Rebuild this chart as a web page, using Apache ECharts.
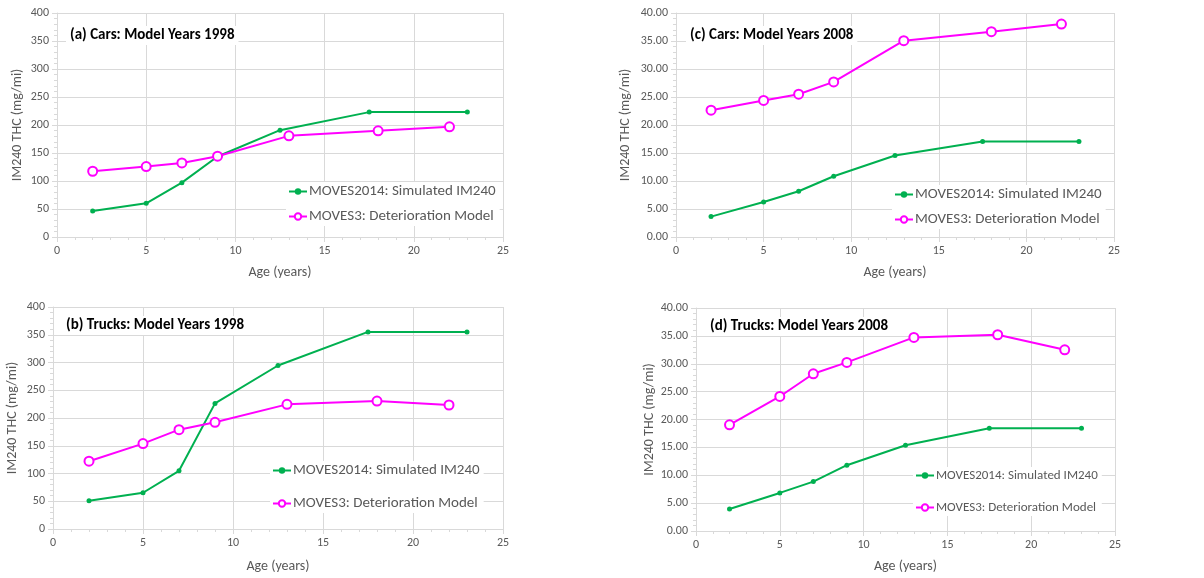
<!DOCTYPE html>
<html lang="en">
<head>
    <meta charset="UTF-8">
    <title>IM240 THC by age</title>
    <script src="https://cdn.jsdelivr.net/npm/echarts@6/dist/echarts.min.js"></script>
    <style>
        *{margin:0;padding:0;}
        html,body{width:100%;height:100%;background:#fff;}
        #main{width:1204px;height:578px;}
    </style>
</head>
<body>
    <div id="main"></div>
    <script>
        // ages of each series
        var agesMoves2014=[2,5,7,9,12.5,17.5,23];
        var agesMoves3=[2,5,7,9,13,18,22];

        // (a) cars 1998
        var carsMY1998_2014=[46.5,60.2,97,143.7,190.8,223,223];
        var carsMY1998_3=[117.4,125.8,132.3,144.3,180.6,189.6,196.7];
        // (b) trucks 1998
        var trucksMY1998_2014=[50.9,65.3,104.8,226.3,294.6,355.1,355.1];
        var trucksMY1998_3=[122.2,153.9,179,192.2,224.6,230.5,223.4];
        // (c) cars 2008
        var carsMY2008_2014=[3.64,6.26,8.17,10.85,14.55,17.05,17.05];
        var carsMY2008_3=[22.65,24.38,25.5,27.7,35.05,36.66,38.03];
        // (d) trucks 2008
        var trucksMY2008_2014=[3.95,6.83,8.86,11.8,15.39,18.44,18.44];
        var trucksMY2008_3=[19.04,24.13,28.2,30.24,34.73,35.2,32.5];

        var panelTitles=["(a) Cars: Model Years 1998","(b) Trucks: Model Years 1998","(c) Cars: Model Years 2008","(d) Trucks: Model Years 2008"];
        var name2014="MOVES2014: Simulated IM240";
        var name3="MOVES3: Deterioration Model";

        function pairs(xs,ys){
            var out=[];
            for(var i=0;i<xs.length;i++){out.push([xs[i],ys[i]]);}
            return out;
        }

        var font="Carlito, Lato, 'Liberation Sans', sans-serif";
        var gray="#595959";
        var lineGray="#d9d9d9";

        var grids=[
            {left:57,top:13,width:446,height:224},
            {left:53,top:307,width:450,height:222},
            {left:676,top:13,width:438,height:224},
            {left:696,top:308,width:419,height:223}
        ];
        var yMax=[400,400,40,40];
        var yInt=[50,50,5,5];
        var yNameGap=[33,34,44,39];
        var xNameGap=[28,30,28,28];

        var xAxes=[],yAxes=[];
        for(var i=0;i<4;i++){
            xAxes.push({
                type:"value",gridIndex:i,min:0,max:25,interval:5,
                name:"Age (years)",nameLocation:"middle",nameGap:xNameGap[i],
                nameTextStyle:{color:gray,fontSize:14,fontFamily:font},
                axisLine:{show:true,lineStyle:{color:lineGray}},
                axisTick:{show:true,length:5,lineStyle:{color:lineGray}},
                minorTick:{show:true,splitNumber:5,length:3,lineStyle:{color:lineGray}},
                axisLabel:{color:gray,fontSize:12,fontFamily:font,margin:8},
                splitLine:{show:true,lineStyle:{color:lineGray}}
            });
            yAxes.push({
                type:"value",gridIndex:i,min:0,max:yMax[i],interval:yInt[i],
                name:"IM240 THC (mg/mi)",nameLocation:"middle",nameGap:yNameGap[i],
                nameTextStyle:{color:gray,fontSize:14,fontFamily:font},
                axisLine:{show:true,lineStyle:{color:lineGray}},
                axisTick:{show:true,length:5,lineStyle:{color:lineGray}},
                minorTick:{show:true,splitNumber:5,length:3,lineStyle:{color:lineGray}},
                axisLabel:{color:gray,fontSize:12,fontFamily:font,margin:8,
                    formatter:(i>=2)?function(v){return v.toFixed(2);}:function(v){return v;}},
                splitLine:{show:true,lineStyle:{color:lineGray}}
            });
        }

        var titlePos=[{left:66,top:26},{left:62,top:316},{left:686,top:26},{left:706,top:317}];
        var titles=[];
        for(var i=0;i<4;i++){
            titles.push({
                text:panelTitles[i],left:titlePos[i].left,top:titlePos[i].top,
                padding:[2,4,2,4],backgroundColor:"#fff",
                textStyle:{color:"#000",fontWeight:"bold",fontSize:15,fontFamily:font}
            });
        }

        var data2014=[carsMY1998_2014,trucksMY1998_2014,carsMY2008_2014,trucksMY2008_2014];
        var data3=[carsMY1998_3,trucksMY1998_3,carsMY2008_3,trucksMY2008_3];
        var series=[];
        for(var i=0;i<4;i++){
            series.push({
                type:"line",name:name2014,xAxisIndex:i,yAxisIndex:i,
                data:pairs(agesMoves2014,data2014[i]),
                symbol:"circle",symbolSize:5,
                lineStyle:{color:"#00b050",width:2},
                itemStyle:{color:"#00b050"}
            });
            series.push({
                type:"line",name:name3,xAxisIndex:i,yAxisIndex:i,
                data:pairs(agesMoves3,data3[i]),
                symbol:"emptyCircle",symbolSize:9,
                lineStyle:{color:"#ff00ff",width:2},
                itemStyle:{color:"#ff00ff",borderColor:"#ff00ff",borderWidth:1}
            });
        }

        var legendPos=[
            {left:286,top:182,gap:10,size:15},
            {left:270,top:461,gap:18,size:15},
            {left:892,top:185,gap:10,size:15},
            {left:913,top:467,gap:19,size:13}
        ];
        var legends=[];
        for(var i=0;i<4;i++){
            legends.push({
                orient:"vertical",left:legendPos[i].left,top:legendPos[i].top,
                itemWidth:18,itemHeight:8,itemGap:legendPos[i].gap,
                padding:[2,4,2,2],backgroundColor:"#fff",
                selectedMode:false,
                data:[name2014,name3],
                textStyle:{color:gray,fontSize:legendPos[i].size,fontFamily:font,padding:[0,0,0,-3]}
            });
        }

        var myCharts=echarts.init(document.getElementById("main"));
        myCharts.setOption({
            animation:false,
            backgroundColor:"#fff",
            title:titles,
            legend:legends,
            grid:grids,
            xAxis:xAxes,
            yAxis:yAxes,
            series:series
        });
    </script>
</body>
</html>
